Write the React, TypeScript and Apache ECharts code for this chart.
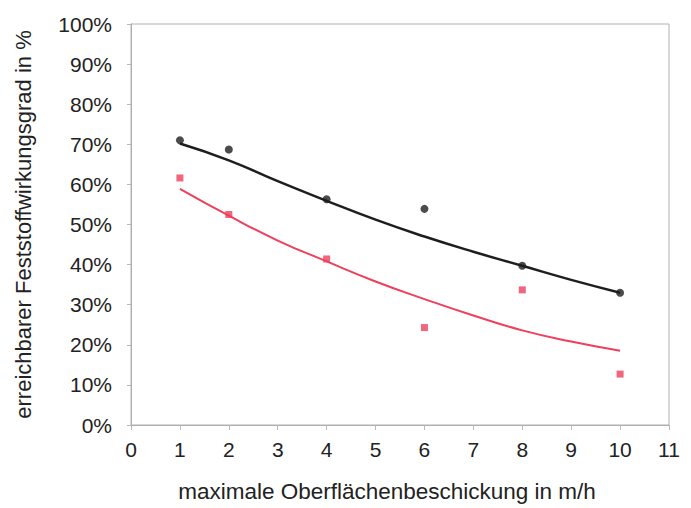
import React, { useEffect, useRef } from "react";
import * as echarts from "echarts";

const xValues = [1, 2, 4, 6, 8, 10];
const blackPoints = [71.0, 68.7, 56.3, 53.9, 39.7, 33.0];
const pinkPoints = [61.6, 52.5, 41.4, 24.3, 33.7, 12.7];

const trendX = [1, 2, 3, 4, 5, 6, 7, 8, 9, 10];
const blackTrend = [70.2, 66.0, 60.8, 55.9, 51.2, 47.0, 43.2, 39.7, 36.2, 33.0];
const pinkTrend = [58.9, 52.2, 46.0, 40.8, 35.8, 31.4, 27.3, 23.6, 20.8, 18.5];

const xAxisName = "maximale Oberflächenbeschickung in m/h";
const yAxisName = "erreichbarer Feststoffwirkungsgrad in %";

const BLACK = "#1e1e1e";
const PINK = "#ee3f5c";

export default function App() {
  const ref = useRef<HTMLDivElement>(null);
  useEffect(() => {
    if (!ref.current) return;
    const chart = echarts.init(ref.current, null, { renderer: "svg" });
    const font = "'Liberation Sans', Arial, sans-serif";
    chart.setOption({
      animation: false,
      backgroundColor: "#ffffff",
      grid: {
        left: 131,
        right: 22,
        top: 24,
        bottom: 76,
        show: true,
        borderColor: "#b0b0b0",
        borderWidth: 1,
      },
      xAxis: {
        type: "value",
        min: 0,
        max: 11,
        interval: 1,
        name: xAxisName,
        nameLocation: "middle",
        nameGap: 55,
        nameTextStyle: {
          fontFamily: font,
          fontSize: 22.5,
          color: "#222",
          padding: [0, 26, 0, 0],
        },
        axisLine: { show: true, lineStyle: { color: "#b0b0b0" } },
        axisTick: { show: true, length: 5, lineStyle: { color: "#b8b8b8" } },
        axisLabel: { fontFamily: font, fontSize: 21, color: "#222", margin: 14 },
        splitLine: { show: false },
      },
      yAxis: {
        type: "value",
        min: 0,
        max: 100,
        interval: 10,
        name: yAxisName,
        nameLocation: "middle",
        nameGap: 97,
        nameTextStyle: { fontFamily: font, fontSize: 22, color: "#222" },
        axisLine: { show: true, lineStyle: { color: "#b0b0b0" } },
        axisTick: { show: true, length: 4, lineStyle: { color: "#b8b8b8" } },
        axisLabel: {
          fontFamily: font,
          fontSize: 21,
          color: "#222",
          margin: 19,
          formatter: "{value}%",
        },
        splitLine: { show: false },
      },
      series: [
        {
          type: "line",
          data: trendX.map((x, i) => [x, blackTrend[i]]),
          smooth: true,
          showSymbol: false,
          lineStyle: { color: BLACK, width: 2.5 },
          z: 2,
        },
        {
          type: "line",
          data: trendX.map((x, i) => [x, pinkTrend[i]]),
          smooth: true,
          showSymbol: false,
          lineStyle: { color: PINK, width: 2 },
          z: 2,
        },
        {
          type: "scatter",
          data: xValues.map((x, i) => [x, blackPoints[i]]),
          symbol: "circle",
          symbolSize: 8,
          itemStyle: { color: BLACK },
          z: 3,
        },
        {
          type: "scatter",
          data: xValues.map((x, i) => [x, pinkPoints[i]]),
          symbol: "rect",
          symbolSize: 7,
          itemStyle: { color: PINK },
          z: 3,
        },
      ],
    });
    return () => chart.dispose();
  }, []);
  return (
    <div
      ref={ref}
      style={{ position: "fixed", left: 0, top: 0, width: 691, height: 508 }}
    />
  );
}
